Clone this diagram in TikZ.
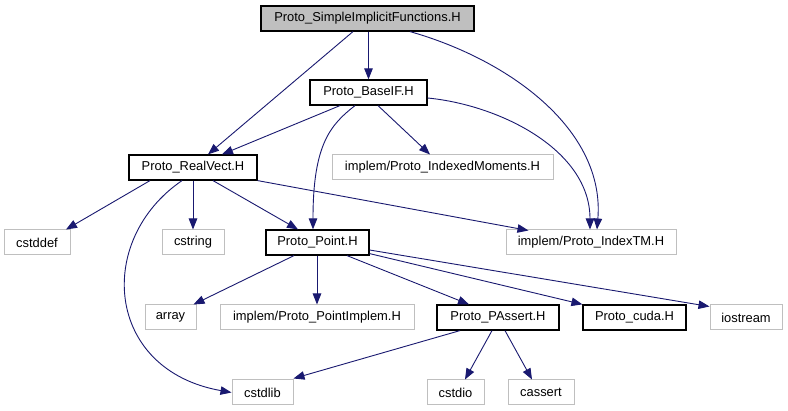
\documentclass[tikz,border=0pt]{standalone}
\usepackage{fontspec}
\setmainfont{Liberation Sans}
\usetikzlibrary{arrows.meta}
\definecolor{edgeblue}{HTML}{191970}
\definecolor{boxgray}{HTML}{BFBFBF}
\begin{document}
\begin{tikzpicture}[x=1pt,y=-1pt,
  box/.style={inner sep=0pt, minimum height=25pt, font=\fontsize{12.9}{14}\selectfont},
  hdr/.style={box, draw=black, line width=1.2pt, fill=white},
  rootbox/.style={box, draw=black, line width=1.2pt, fill=boxgray},
  ext/.style={box, draw=boxgray, line width=1pt, fill=white},
  edge/.style={draw=edgeblue, line width=0.9pt, -{Triangle[length=11pt,width=8.5pt]}}]
\fill[white] (0,0) rectangle (788,411);
\useasboundingbox (0,0) rectangle (788,411);
% nodes
\node[rootbox, minimum width=213pt] (sif) at (367.5,18.5) {Proto\_SimpleImplicitFunctions.H};
\node[hdr, minimum width=117pt] (baseif) at (368.5,92.5) {Proto\_BaseIF.H};
\node[hdr, minimum width=128pt] (realvect) at (193,167.5) {Proto\_RealVect.H};
\node[ext, minimum width=221pt] (idxmom) at (442.5,167.5) {implem/Proto\_IndexedMoments.H};
\node[ext, minimum width=66pt] (cstddef) at (37,242.5) {cstddef};
\node[ext, minimum width=62pt] (cstring) at (193,242.5) {cstring};
\node[hdr, minimum width=103pt] (point) at (317.5,242.5) {Proto\_Point.H};
\node[ext, minimum width=170pt] (indextm) at (591,242.5) {implem/Proto\_IndexTM.H};
\node[ext, minimum width=51pt] (array) at (170.5,317.5) {array};
\node[ext, minimum width=194pt] (ptimpl) at (317,317.5) {implem/Proto\_PointImplem.H};
\node[hdr, minimum width=122pt] (passert) at (498,317.5) {Proto\_PAssert.H};
\node[hdr, minimum width=103pt] (cuda) at (634.5,317.5) {Proto\_cuda.H};
\node[ext, minimum width=72pt] (iostream) at (746,317.5) {iostream};
\node[ext, minimum width=61pt] (cstdlib) at (262.5,392.5) {cstdlib};
\node[ext, minimum width=57pt] (cstdio) at (455.5,392.5) {cstdio};
\node[ext, minimum width=66pt] (cassert) at (541,392.5) {cassert};
% edges
\draw[edge] (sif.south -| baseif.north) -- (baseif.north);
\draw[edge] ([xshift=-14.5pt]sif.south) -- ([xshift=15pt]realvect.north);
\draw[edge] ([xshift=42.5pt]sif.south) .. controls (510,60) and (605,130) .. ([xshift=6pt]indextm.north);
\draw[edge] ([xshift=-28.5pt]baseif.south) -- ([xshift=29pt]realvect.north);
\draw[edge] ([xshift=9.5pt]baseif.south) -- ([xshift=-12.5pt]idxmom.north);
\draw[edge] ([xshift=-13.5pt]baseif.south) .. controls (330,125) and (313,145) .. ([xshift=-4.5pt]point.north);
\draw[edge] ([yshift=-5.5pt]baseif.east) .. controls (500,105) and (590,150) .. ([xshift=-1pt]indextm.north);
\draw[edge] ([xshift=-43pt]realvect.south) -- ([xshift=29pt]cstddef.north);
\draw[edge] (realvect.south) -- (cstring.north);
\draw[edge] ([xshift=20pt]realvect.south) -- ([xshift=-19.5pt]point.north);
\draw[edge] (realvect.south east) -- ([xshift=23pt,yshift=-1pt]indextm.north west);
\draw[edge] ([xshift=-11pt]realvect.south) .. controls (95,240) and (105,370) .. (cstdlib.west);
\draw[edge] ([xshift=-23.5pt]point.south) -- ([xshift=-3pt]array.north east);
\draw[edge] ([xshift=-0.5pt]point.south) -- (ptimpl.north);
\draw[edge] ([xshift=29.5pt]point.south) -- ([xshift=-29pt]passert.north);
\draw[edge] ([yshift=2pt]point.south east) -- (cuda.north west);
\draw[edge] ([yshift=-7.5pt]point.east) -- ([yshift=-2pt]iostream.north west);
\draw[edge] ([xshift=-38pt]passert.south) -- ([yshift=1pt]cstdlib.north east);
\draw[edge] ([xshift=-6pt]passert.south) -- ([xshift=9.5pt]cstdio.north);
\draw[edge] ([xshift=7pt]passert.south) -- ([xshift=-9pt]cassert.north);
\end{tikzpicture}
\end{document}
